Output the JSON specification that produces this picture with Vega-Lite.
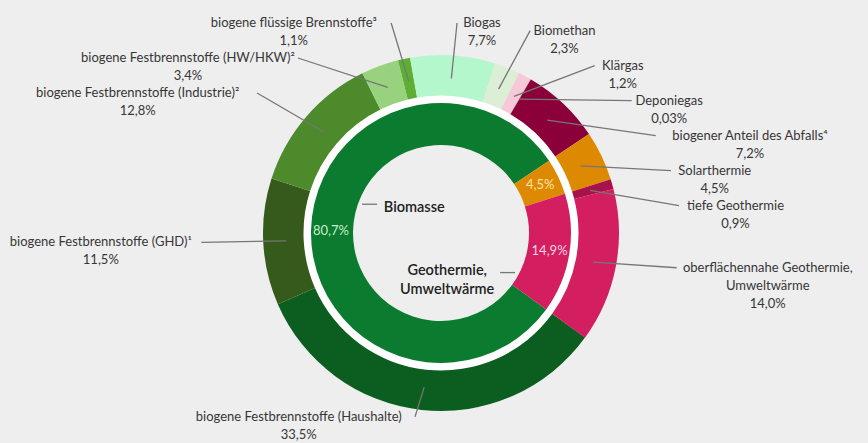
{
  "$schema": "https://vega.github.io/schema/vega-lite/v6.json",
  "width": 854,
  "height": 420,
  "autosize": {"type": "none"},
  "padding": {"left": 14, "top": 23, "right": 0, "bottom": 0},
  "background": "#eeeeee",
  "config": {"view": {"stroke": null}, "font": "Lato"},
  "datasets": {
    "aussen": [
      {"nr": 1, "kategorie": "biogene Festbrennstoffe (Haushalte)", "anteil": 33.5},
      {"nr": 2, "kategorie": "biogene Festbrennstoffe (GHD)¹", "anteil": 11.5},
      {"nr": 3, "kategorie": "biogene Festbrennstoffe (Industrie)²", "anteil": 12.8},
      {"nr": 4, "kategorie": "biogene Festbrennstoffe (HW/HKW)²", "anteil": 3.4},
      {"nr": 5, "kategorie": "biogene flüssige Brennstoffe³", "anteil": 1.1},
      {"nr": 6, "kategorie": "Biogas", "anteil": 7.7},
      {"nr": 7, "kategorie": "Biomethan", "anteil": 2.3},
      {"nr": 8, "kategorie": "Klärgas", "anteil": 1.2},
      {"nr": 9, "kategorie": "Deponiegas", "anteil": 0.03},
      {"nr": 10, "kategorie": "biogener Anteil des Abfalls⁴", "anteil": 7.2},
      {"nr": 11, "kategorie": "Solarthermie", "anteil": 4.5},
      {"nr": 12, "kategorie": "tiefe Geothermie", "anteil": 0.9},
      {"nr": 13, "kategorie": "oberflächennahe Geothermie, Umweltwärme", "anteil": 14.0}
    ],
    "innen": [
      {"nr": 1, "gruppe": "Biomasse", "anteil": 80.7},
      {"nr": 2, "gruppe": "Solarthermie", "anteil": 4.5},
      {"nr": 3, "gruppe": "Geothermie, Umweltwärme", "anteil": 14.9}
    ]
  },
  "layer": [
    {
      "data": {"values": [{}]},
      "mark": {"type": "arc", "radius": 138.5, "radius2": 129, "theta": 0, "theta2": 6.2832, "fill": "#ffffff"},
      "encoding": {}
    },
    {
      "data": {"name": "aussen"},
      "mark": {"type": "arc", "radius": 178, "radius2": 137.5},
      "encoding": {
        "theta": {"field": "anteil", "type": "quantitative", "stack": true, "scale": {"range": [2.1991, 8.4823]}},
        "order": {"field": "nr", "type": "quantitative"},
        "color": {
          "field": "kategorie",
          "type": "nominal",
          "legend": null,
          "scale": {
            "domain": ["biogene Festbrennstoffe (Haushalte)", "biogene Festbrennstoffe (GHD)¹", "biogene Festbrennstoffe (Industrie)²", "biogene Festbrennstoffe (HW/HKW)²", "biogene flüssige Brennstoffe³", "Biogas", "Biomethan", "Klärgas", "Deponiegas", "biogener Anteil des Abfalls⁴", "Solarthermie", "tiefe Geothermie", "oberflächennahe Geothermie, Umweltwärme"],
            "range": ["#0b5e1f", "#365a1b", "#4d8a2c", "#99d27f", "#5eae33", "#b5f7cd", "#dcefd6", "#f6c9d9", "#c0205a", "#8b0039", "#dd8a02", "#a8124b", "#d31f5f"]
          }
        }
      }
    },
    {
      "data": {"name": "innen"},
      "mark": {"type": "arc", "radius": 130, "radius2": 88},
      "encoding": {
        "theta": {"field": "anteil", "type": "quantitative", "stack": true, "scale": {"range": [2.1991, 8.4823]}},
        "order": {"field": "nr", "type": "quantitative"},
        "color": {
          "field": "gruppe",
          "type": "nominal",
          "legend": null,
          "scale": {"domain": ["Biomasse", "Solarthermie", "Geothermie, Umweltwärme"], "range": ["#0b7b2f", "#dd8a02", "#d31f5f"]}
        }
      }
    },
    {
      "data": {"name": "aussen"},
      "transform": [
        {"stack": "anteil", "groupby": [], "sort": [{"field": "nr", "order": "ascending"}], "as": ["s0", "s1"]},
        {"joinaggregate": [{"op": "sum", "field": "anteil", "as": "total"}]},
        {"calculate": "(2.1991 + PI*(datum.s0+datum.s1)/datum.total) % (2*PI)", "as": "t"},
        {"calculate": "sin(datum.t) >= 0 ? 1 : -1", "as": "side"},
        {"calculate": "(sin(datum.t) >= 0 && sin(datum.t) < 0.3) ? 'oben' : (datum.side > 0 ? 'rechts' : 'links')", "as": "seite"},
        {"calculate": "max(-210, cos(datum.t) >= 0 ? -218*cos(datum.t) : -185*cos(datum.t))", "as": "py"},
        {"window": [{"op": "row_number", "as": "rn"}], "groupby": ["seite"], "sort": [{"field": "py", "order": "ascending"}]},
        {"calculate": "datum.py - 35*(datum.rn-1)", "as": "tt"},
        {"window": [{"op": "max", "field": "tt", "as": "mx"}], "groupby": ["seite"], "sort": [{"field": "py", "order": "ascending"}], "frame": [null, 0]},
        {"calculate": "35*(datum.rn-1) + datum.mx", "as": "pyf"},
        {"calculate": "datum.pyf < 0 ? 218 : 185", "as": "ry"},
        {"calculate": "datum.side*240*(datum.pyf > datum.py + 0.01 ? sqrt(max(0, 1 - pow(datum.pyf/datum.ry, 2))) : abs(sin(datum.t)))", "as": "ax"},
        {"calculate": "-datum.pyf", "as": "ay"},
        {"calculate": "155*sin(datum.t)", "as": "sx"},
        {"calculate": "155*cos(datum.t)", "as": "sy"},
        {"calculate": "replace(format(datum.anteil, datum.anteil < 0.1 ? '.2f' : '.1f'), '.', ',') + '%'", "as": "pct"},
        {"calculate": "replace(datum.kategorie, ', ', ',\\n') + '\\n' + datum.pct", "as": "lbl"},
        {"calculate": "6.3*indexof(datum.lbl, '\\n')", "as": "w"},
        {"calculate": "datum.ax + datum.side*(datum.w/2 + 6)", "as": "lx"}
      ],
      "layer": [
        {
          "mark": {"type": "rule", "color": "#767676", "strokeWidth": 1.3},
          "encoding": {
            "x": {"field": "sx", "type": "quantitative", "scale": {"domain": [-427, 427], "nice": false, "zero": false}, "axis": null},
            "y": {"field": "sy", "type": "quantitative", "scale": {"domain": [-210, 210], "nice": false, "zero": false}, "axis": null},
            "x2": {"field": "ax"},
            "y2": {"field": "ay"}
          }
        },
        {
          "mark": {"type": "text", "align": "center", "baseline": "middle", "lineBreak": "\n", "fontSize": 13, "lineHeight": 18, "color": "#363636"},
          "encoding": {
            "x": {"field": "lx", "type": "quantitative", "scale": {"domain": [-427, 427], "nice": false, "zero": false}, "axis": null},
            "y": {"field": "ay", "type": "quantitative", "scale": {"domain": [-210, 210], "nice": false, "zero": false}, "axis": null},
            "text": {"field": "lbl"}
          }
        }
      ]
    },
    {
      "data": {"name": "innen"},
      "transform": [
        {"stack": "anteil", "groupby": [], "sort": [{"field": "nr", "order": "ascending"}], "as": ["s0", "s1"]},
        {"joinaggregate": [{"op": "sum", "field": "anteil", "as": "total"}]},
        {"calculate": "(2.1991 + PI*(datum.s0+datum.s1)/datum.total) % (2*PI)", "as": "t"},
        {"calculate": "replace(format(datum.anteil, '.1f'), '.', ',') + '%'", "as": "pct"},
        {"calculate": "110*sin(datum.t)", "as": "px"},
        {"calculate": "110*cos(datum.t)", "as": "py"}
      ],
      "mark": {"type": "text", "align": "center", "baseline": "middle", "fontSize": 13},
      "encoding": {
        "x": {"field": "px", "type": "quantitative", "scale": {"domain": [-427, 427], "nice": false, "zero": false}, "axis": null},
        "y": {"field": "py", "type": "quantitative", "scale": {"domain": [-210, 210], "nice": false, "zero": false}, "axis": null},
        "text": {"field": "pct"},
        "color": {
          "field": "gruppe",
          "type": "nominal",
          "legend": null,
          "scale": {"domain": ["Biomasse", "Solarthermie", "Geothermie, Umweltwärme"], "range": ["#c9efc9", "#fde3a8", "#fcd3e2"]}
        }
      }
    },
    {
      "data": {"name": "innen"},
      "transform": [
        {"stack": "anteil", "groupby": [], "sort": [{"field": "nr", "order": "ascending"}], "as": ["s0", "s1"]},
        {"joinaggregate": [{"op": "sum", "field": "anteil", "as": "total"}]},
        {"filter": "datum.anteil > 10"},
        {"calculate": "(2.1991 + PI*(datum.s0+datum.s1)/datum.total) % (2*PI) + 0.33", "as": "a"},
        {"calculate": "sin(datum.a) >= 0 ? 1 : -1", "as": "side"},
        {"calculate": "replace(datum.gruppe, ', ', ',\\n')", "as": "nlbl"},
        {"calculate": "7.8*indexof(datum.nlbl + '\\n', '\\n')", "as": "w"},
        {"calculate": "84*sin(datum.a)", "as": "l1x"},
        {"calculate": "84*cos(datum.a)", "as": "l1y"},
        {"calculate": "datum.l1x - datum.side*15", "as": "l2x"},
        {"calculate": "datum.l2x - datum.side*(datum.side > 0 ? 10 : 6) - datum.side*datum.w/2", "as": "nx"},
        {"calculate": "datum.side > 0 ? datum.l1y + 2 : datum.l1y - 4", "as": "ny"}
      ],
      "layer": [
        {
          "mark": {"type": "rule", "color": "#767676", "strokeWidth": 1.3},
          "encoding": {
            "x": {"field": "l1x", "type": "quantitative", "scale": {"domain": [-427, 427], "nice": false, "zero": false}, "axis": null},
            "y": {"field": "l1y", "type": "quantitative", "scale": {"domain": [-210, 210], "nice": false, "zero": false}, "axis": null},
            "x2": {"field": "l2x"},
            "y2": {"field": "l1y"}
          }
        },
        {
          "mark": {"type": "text", "align": "center", "baseline": "middle", "lineBreak": "\n", "fontSize": 14.5, "lineHeight": 19, "fontWeight": 600, "color": "#222222"},
          "encoding": {
            "x": {"field": "nx", "type": "quantitative", "scale": {"domain": [-427, 427], "nice": false, "zero": false}, "axis": null},
            "y": {"field": "ny", "type": "quantitative", "scale": {"domain": [-210, 210], "nice": false, "zero": false}, "axis": null},
            "text": {"field": "nlbl"}
          }
        }
      ]
    }
  ],
  "resolve": {"scale": {"theta": "independent", "color": "independent"}}
}
